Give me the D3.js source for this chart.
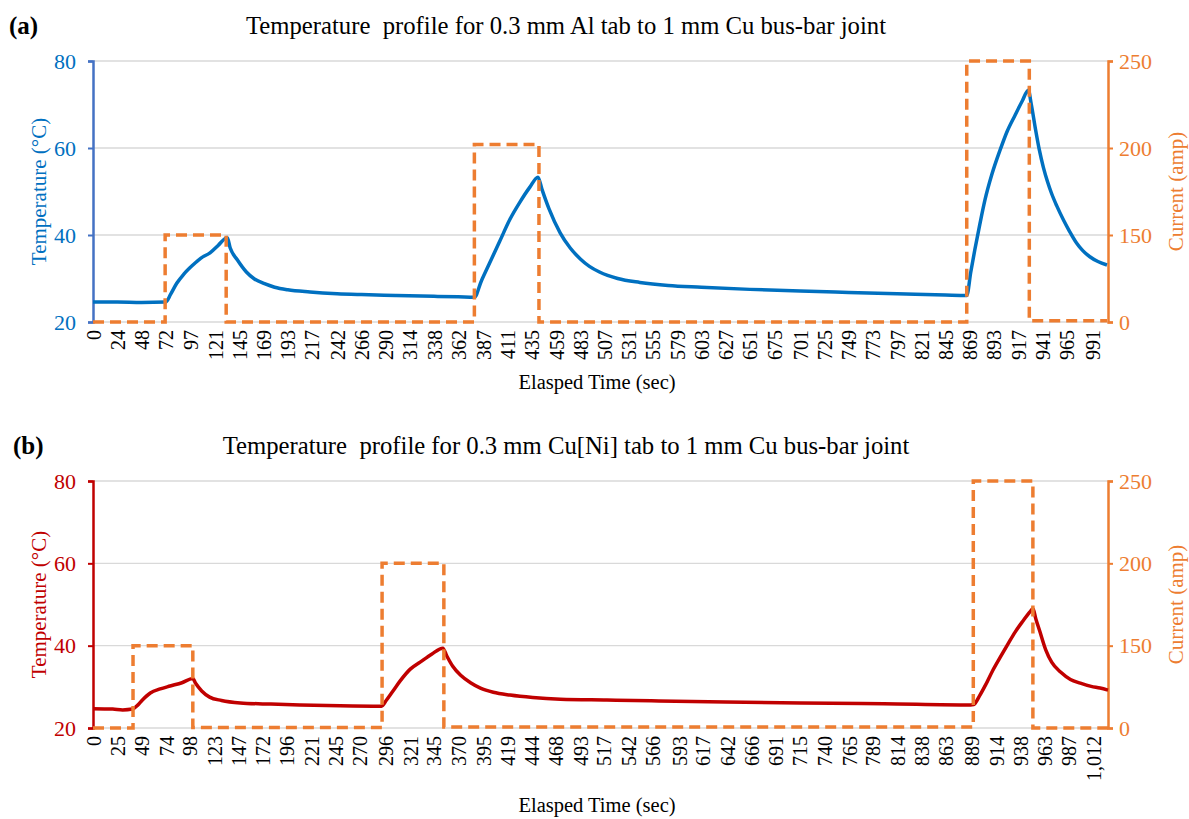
<!DOCTYPE html>
<html>
<head>
<meta charset="utf-8">
<script src="https://cdn.jsdelivr.net/npm/d3@7"></script>
<style>
  body { margin: 0; background: #fff; }
  svg { font-family: "Liberation Serif", "Times New Roman", serif; }
</style>
</head>
<body>
<svg id="chart" width="1189" height="819"></svg>
<script>
// ---- panel (a): Al tab ----
var timeA = [0, 24, 48, 72, 77, 83, 90, 99, 107, 116, 124, 131, 133, 136, 143, 152, 160, 170, 180, 193, 215, 242, 266, 300, 338, 362, 378,
  385, 393, 403, 413, 423, 433, 441, 445, 452, 463, 473, 483, 492, 502, 520, 542, 570, 603, 651, 701, 749, 797, 845, 866,
  870, 874, 879, 884, 891, 899, 906, 914, 921, 927, 930, 934, 938, 942, 946, 950, 955, 962, 968, 975, 981, 988, 996, 1005];
var tempA = [24.6, 24.6, 24.5, 24.6, 26.4, 28.9, 31.0, 33.1, 34.7, 35.9, 37.6, 39.2, 39.4, 37.0, 34.3, 31.5, 29.9, 28.8, 28.0, 27.4, 26.9, 26.5, 26.3, 26.1, 25.9, 25.8, 25.7,
  29.5, 33.5, 38.5, 43.5, 47.5, 51.0, 53.3, 50.5, 46.0, 40.5, 37.0, 34.5, 32.8, 31.5, 30.0, 29.1, 28.4, 28.0, 27.5, 27.1, 26.8, 26.5, 26.2, 26.1,
  31.5, 36.6, 42.5, 48.0, 54.0, 59.5, 63.8, 67.6, 70.8, 73.3, 70.0, 64.5, 59.5, 55.5, 52.3, 49.6, 46.8, 43.4, 40.8, 38.1, 36.4, 35.0, 33.9, 33.1];
var stepTimeA = [0, 71.5, 132, 378, 442, 866, 928, 1005];
var currentA = [0, 150, 0, 202, 0, 250, 2, 2];
var ticksA = [0, 24, 48, 72, 97, 121, 145, 169, 193, 217, 242, 266, 290, 314, 338, 362, 387, 411, 435, 459, 483,
  507, 531, 555, 579, 603, 627, 651, 675, 701, 725, 749, 773, 797, 821, 845, 869, 893, 917, 941, 965, 991];

// ---- panel (b): Cu[Ni] tab ----
var timeB = [0, 20, 30, 40, 45, 50, 58, 68, 78, 90, 101, 104, 110, 118, 130, 149, 180, 210, 250, 292,
  297, 303, 311, 321, 331, 343, 354, 358, 364, 372, 382, 392, 405, 422, 445, 473, 520, 565, 640, 716, 800, 888,
  891, 897, 903, 910, 918, 926, 933, 941, 948, 951, 954, 958, 964, 970, 979, 989, 999, 1010, 1019, 1027];
var tempB = [24.7, 24.6, 24.4, 24.6, 25.5, 26.8, 28.5, 29.5, 30.2, 31.0, 32.0, 30.8, 29.0, 27.5, 26.7, 26.1, 25.8, 25.6, 25.4, 25.3,
  26.8, 28.8, 31.5, 34.3, 36.0, 38.0, 39.4, 37.5, 35.0, 32.8, 31.0, 29.7, 28.7, 28.0, 27.4, 27.0, 26.8, 26.6, 26.3, 26.1, 25.9, 25.6,
  25.7, 27.8, 30.4, 33.8, 37.2, 40.5, 43.3, 46.0, 48.2, 49.0, 46.5, 43.5, 39.0, 36.0, 33.6, 31.8, 30.9, 30.1, 29.7, 29.2];
var stepTimeB = [0, 40.5, 101, 292.5, 355, 890.7, 951, 1027];
var currentB = [0, 150, 1, 200, 2, 250, 0, 0];
var ticksB = [0, 25, 49, 74, 98, 123, 147, 172, 196, 221, 245, 270, 296, 321, 345, 370, 395, 419, 444, 468, 493,
  517, 542, 566, 593, 617, 642, 666, 691, 715, 740, 765, 789, 814, 838, 863, 889, 914, 938, 963, 987, 1012];

var tempTicks = [20, 40, 60, 80];
var currentTicks = [0, 150, 200, 250];

var svg = d3.select("#chart");
var orange = "#ED7D31";

function drawPanel(p) {
    var g = svg.append("g");
    var left = 93, right = 1108;

    var x = d3.scaleLinear().domain([0, p.tMax]).range([left, right]);
    var y = d3.scaleLinear().domain([20, 80]).range([p.bottom, p.top]);
    // right axis is not evenly spaced in the original, 150/200/250 sit on the grid lines
    var y2 = d3.scaleLinear().domain(currentTicks).range(tempTicks.map(function(d) { return y(d); }));

    // grid lines
    g.selectAll(".grid").data(tempTicks).enter().append("line")
        .attr("x1", left).attr("x2", right)
        .attr("y1", function(d) { return y(d); }).attr("y2", function(d) { return y(d); })
        .attr("stroke", "#d9d9d9").attr("stroke-width", 1.3);

    // x axis labels
    var xAxis = g.append("g").attr("transform", "translate(0," + p.bottom + ")")
        .call(d3.axisBottom(x).tickValues(p.ticks).tickSize(0).tickFormat(d3.format(",")));
    xAxis.select(".domain").remove();
    xAxis.selectAll("text")
        .attr("transform", "rotate(-90)")
        .attr("x", -8).attr("y", 0).attr("dy", "0.35em")
        .style("text-anchor", "end")
        .attr("fill", "#000")
        .style("font-size", "20px")
        .style("font-family", "Liberation Serif");

    // left axis
    var yAxis = g.append("g").attr("transform", "translate(" + left + ",0)")
        .call(d3.axisLeft(y).tickValues(tempTicks).tickSize(5).tickPadding(12));
    yAxis.select(".domain").attr("stroke", p.axisColor).attr("stroke-width", 2.5);
    yAxis.selectAll("line").attr("stroke", p.axisColor).attr("stroke-width", 2);
    yAxis.selectAll("text").attr("fill", p.color).style("font-size", "22px").style("font-family", "Liberation Serif");

    // right axis
    var yAxis2 = g.append("g").attr("transform", "translate(" + right + ",0)")
        .call(d3.axisRight(y2).tickValues(currentTicks).tickSize(5).tickPadding(6));
    yAxis2.select(".domain").attr("stroke", orange).attr("stroke-width", 2.5);
    yAxis2.selectAll("line").attr("stroke", orange).attr("stroke-width", 2);
    yAxis2.selectAll("text").attr("fill", orange).style("font-size", "22px").style("font-family", "Liberation Serif");

    // temperature line
    var pts = p.time.map(function(t, i) { return [t, p.temp[i]]; });
    g.append("path").datum(pts)
        .attr("fill", "none").attr("stroke", p.color).attr("stroke-width", 3.5)
        .attr("d", d3.line().x(function(d) { return x(d[0]); }).y(function(d) { return y(d[1]); })
            .curve(d3.curveMonotoneX));

    // current (dashed step)
    var cur = p.stepTime.map(function(t, i) { return [t, p.current[i]]; });
    g.append("path").datum(cur)
        .attr("fill", "none").attr("stroke", orange).attr("stroke-width", 3.5)
        .attr("stroke-dasharray", "11,6")
        .attr("d", d3.line().x(function(d) { return x(d[0]); }).y(function(d) { return y2(d[1]); })
            .curve(d3.curveStepAfter));

    // titles
    g.append("text").attr("x", p.labelX).attr("y", p.top - 27)
        .style("font-size", "25px").style("font-weight", "bold").text(p.label);
    g.append("text").attr("x", 566).attr("y", p.top - 27).attr("text-anchor", "middle")
        .style("font-size", "24.7px").style("white-space", "pre").text(p.title);
    g.append("text").attr("transform", "translate(46," + (p.top + p.bottom) / 2 + ") rotate(-90)")
        .attr("text-anchor", "middle").attr("fill", p.color)
        .style("font-size", "21px").text("Temperature (°C)");
    g.append("text").attr("transform", "translate(1183," + (p.top + p.bottom) / 2 + ") rotate(-90)")
        .attr("text-anchor", "middle").attr("fill", orange)
        .style("font-size", "21px").text("Current (amp)");
    g.append("text").attr("x", 597).attr("y", p.xTitleY).attr("text-anchor", "middle")
        .style("font-size", "20.5px").text("Elasped Time (sec)");
}

drawPanel({
    top: 61, bottom: 322, tMax: 1006, ticks: ticksA,
    time: timeA, temp: tempA, stepTime: stepTimeA, current: currentA,
    color: "#0070C0", axisColor: "#4472C4",
    label: "(a)", labelX: 9, xTitleY: 389,
    title: "Temperature  profile for 0.3 mm Al tab to 1 mm Cu bus-bar joint"
});
drawPanel({
    top: 481, bottom: 728, tMax: 1027, ticks: ticksB,
    time: timeB, temp: tempB, stepTime: stepTimeB, current: currentB,
    color: "#C00000", axisColor: "#C00000",
    label: "(b)", labelX: 13, xTitleY: 812,
    title: "Temperature  profile for 0.3 mm Cu[Ni] tab to 1 mm Cu bus-bar joint"
});
</script>
</body>
</html>
